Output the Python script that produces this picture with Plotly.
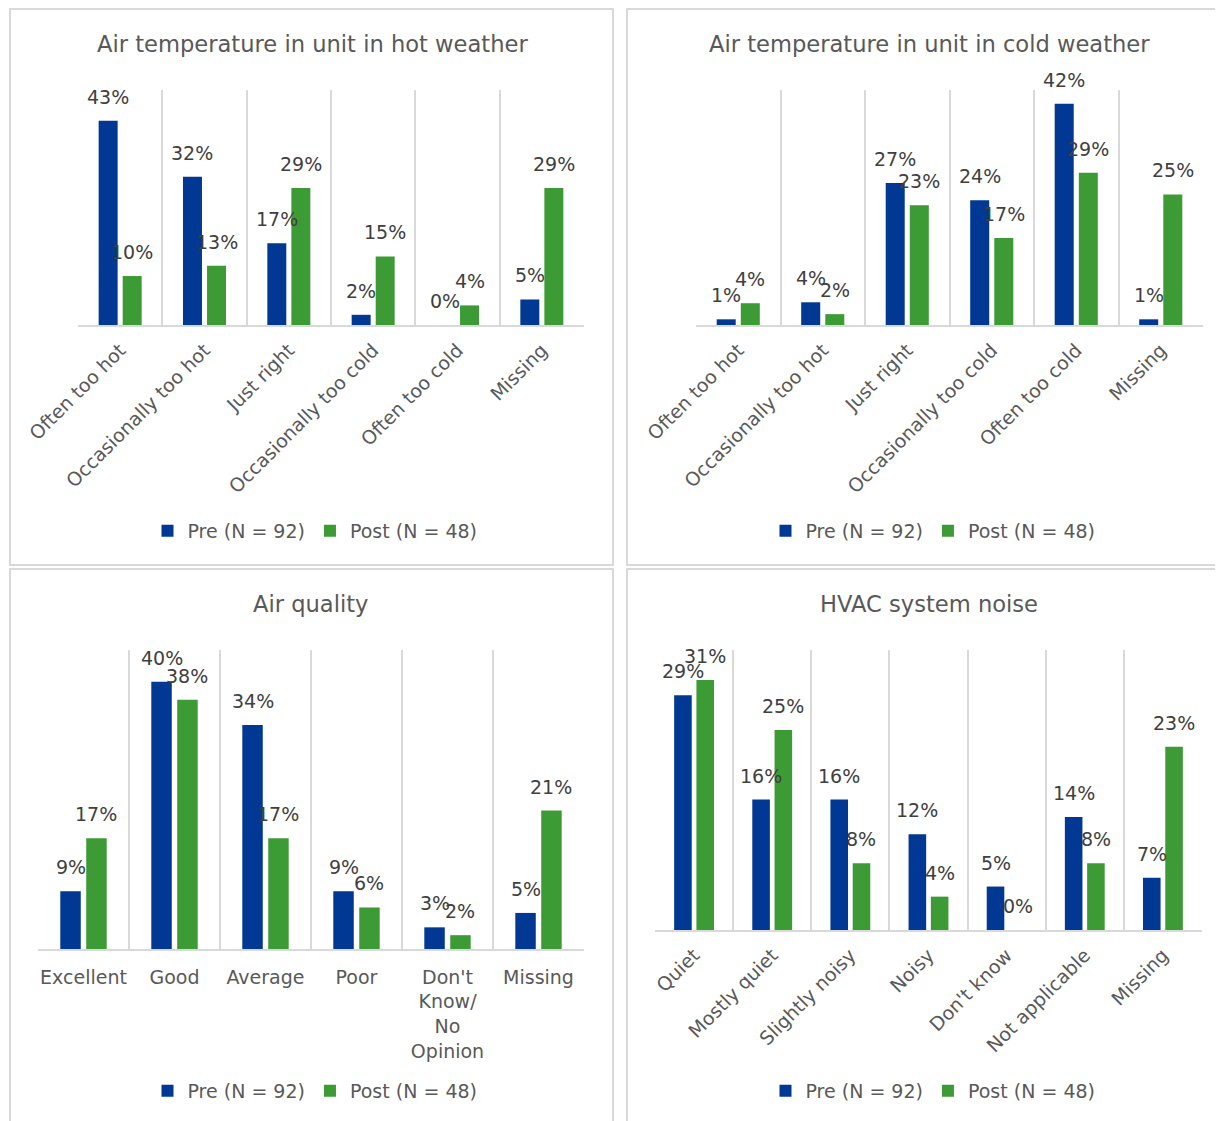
import plotly.graph_objects as go

W, H = 1223, 1121
PAGE_OFF = 8  # browser body margin

series_names = ["Pre (N = 92)", "Post (N = 48)"]
colors = ["#003893", "#3D9B35"]

hot_cats = ["Often too hot", "Occasionally too hot", "Just right", "Occasionally too cold", "Often too cold", "Missing"]
hot_pre = [43.48, 31.52, 17.39, 2.17, 0.0, 5.43]
hot_post = [10.42, 12.6, 29.17, 14.58, 4.17, 29.17]

cold_cats = ["Often too hot", "Occasionally too hot", "Just right", "Occasionally too cold", "Often too cold", "Missing"]
cold_pre = [1.09, 4.35, 27.17, 23.91, 42.39, 1.09]
cold_post = [4.17, 2.08, 22.92, 16.67, 29.17, 25.0]

aq_cats = ["Excellent", "Good", "Average", "Poor", "Don't<br>Know/<br>No<br>Opinion", "Missing"]
aq_pre = [8.7, 40.22, 33.7, 8.7, 3.26, 5.43]
aq_post = [16.67, 37.5, 16.67, 6.25, 2.08, 20.83]

noise_cats = ["Quiet", "Mostly quiet", "Slightly noisy", "Noisy", "Don't know", "Not applicable", "Missing"]
noise_pre = [29.35, 16.3, 16.3, 11.96, 5.43, 14.13, 6.52]
noise_post = [31.25, 25.0, 8.33, 4.17, 0.0, 8.33, 22.92]

titles = ["Air temperature in unit in hot weather", "Air temperature in unit in cold weather",
          "Air quality", "HVAC system noise"]

panels = [
    dict(cats=hot_cats, vals=[hot_pre, hot_post], ymax=50, xpx=(78, 584), ypx=(325, 90), angle=-45, standoff=5,
         title_px=(312, 44), legend_px=(315, 531), box=(10, 613, 9, 565)),
    dict(cats=cold_cats, vals=[cold_pre, cold_post], ymax=45, xpx=(696, 1203), ypx=(325, 90), angle=-45, standoff=5,
         title_px=(929, 44), legend_px=(933, 531), box=(627, 1240, 9, 565)),
    dict(cats=aq_cats, vals=[aq_pre, aq_post], ymax=45, xpx=(38, 584), ypx=(949, 650), angle=0, standoff=10,
         title_px=(311, 604), legend_px=(315, 1091), box=(10, 613, 569, 1140)),
    dict(cats=noise_cats, vals=[noise_pre, noise_post], ymax=35, xpx=(655, 1202), ypx=(930, 650), angle=-45, standoff=5,
         title_px=(929, 604), legend_px=(933, 1091), box=(627, 1240, 569, 1140)),
]

FONT = "DejaVu Sans"
TXT = "#595959"
LBL = "#404040"
GRID = "#d9d9d9"
FS = 19


def px_x(v):
    return (v - PAGE_OFF) / W


def px_y(v):
    return 1 - (v - PAGE_OFF) / H


offsets = [-0.255, 0.03]
bw = 0.225

fig = go.Figure()
layout = dict(width=W, height=H, margin=dict(l=0, r=0, t=0, b=0, autoexpand=False),
              paper_bgcolor="white", plot_bgcolor="white", barmode="overlay",
              font=dict(family=FONT, size=FS, color=TXT))
annotations = []
shapes = []

for p_i, p in enumerate(panels):
    sfx = "" if p_i == 0 else str(p_i + 1)
    xa, ya = "x" + sfx, "y" + sfx
    leg = "legend" + sfx
    n = len(p["cats"])
    for s_i in range(2):
        fig.add_trace(go.Bar(
            x=p["cats"], y=p["vals"][s_i], name=series_names[s_i],
            marker=dict(color=colors[s_i], line=dict(width=0)),
            offset=offsets[s_i], width=bw, xaxis=xa, yaxis=ya, legend=leg,
            hoverinfo="skip"))
        for c_i, v in enumerate(p["vals"][s_i]):
            annotations.append(dict(
                x=c_i + offsets[s_i] + bw / 2, y=v, xref=xa, yref=ya,
                text=f"{v:.0f}%", showarrow=False, yanchor="bottom", yshift=11,
                font=dict(family=FONT, size=FS, color=LBL)))
    x0, x1 = p["xpx"]
    yb, yt = p["ypx"]
    layout["xaxis" + sfx] = dict(
        domain=[px_x(x0), px_x(x1)], anchor=ya, type="category", range=[-0.5, n - 0.5],
        showline=True, linecolor=GRID, linewidth=1.5, showgrid=True, gridcolor=GRID, gridwidth=1.5,
        tickson="boundaries", ticks="", tickangle=p["angle"], zeroline=False,
        ticklabelstandoff=p["standoff"],
        tickfont=dict(family=FONT, size=FS, color=TXT), fixedrange=True)
    layout["yaxis" + sfx] = dict(
        domain=[px_y(yb), px_y(yt)], anchor=xa, range=[0, p["ymax"]], visible=False, fixedrange=True)
    lx, ly = p["legend_px"]
    layout[leg] = dict(orientation="h", x=px_x(lx), y=px_y(ly), xanchor="center", yanchor="middle",
                       bgcolor="rgba(0,0,0,0)", font=dict(family=FONT, size=FS, color=TXT),
                       traceorder="normal")
    tx, ty = p["title_px"]
    annotations.append(dict(x=px_x(tx), y=px_y(ty), xref="paper", yref="paper", text=titles[p_i],
                            showarrow=False, xanchor="center", yanchor="middle",
                            font=dict(family=FONT, size=22.6, color=TXT)))
    bx0, bx1, by0, by1 = p["box"]
    shapes.append(dict(type="rect", xref="paper", yref="paper", x0=px_x(bx0), x1=px_x(bx1),
                       y0=px_y(by1), y1=px_y(by0), line=dict(color=GRID, width=2), layer="below"))

layout["annotations"] = annotations
layout["shapes"] = shapes
fig.update_layout(**layout)
fig.write_html("out.html")
